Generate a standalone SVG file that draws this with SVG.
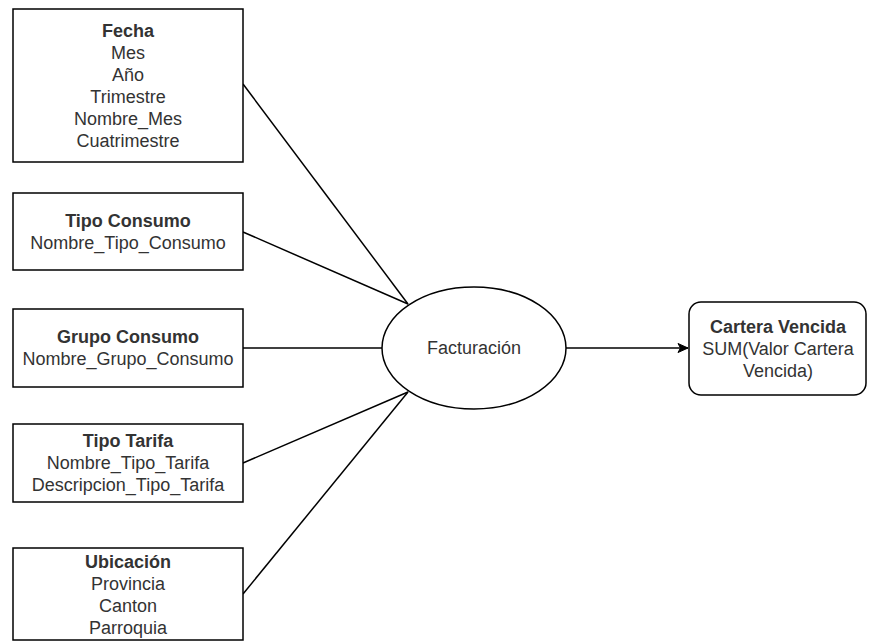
<svg xmlns="http://www.w3.org/2000/svg" width="869" height="642" viewBox="0 0 869 642">
  <defs>
    <style>
      .box { fill: #ffffff; stroke: #000000; stroke-width: 1.5; }
      .edge { fill: none; stroke: #000000; stroke-width: 1.5; }
      text { font-family: "Liberation Sans", Arial, Helvetica, sans-serif; font-size: 18px; fill: #333333; text-anchor: middle; }
      .title { font-weight: bold; }
    </style>
    <marker id="arrow" markerWidth="12" markerHeight="10" refX="11" refY="5" orient="auto" markerUnits="userSpaceOnUse">
      <path d="M1,0.5 L11,5 L1,9.5 L3.5,5 Z" fill="#000000" stroke="#000000" stroke-width="1"/>
    </marker>
  </defs>
  <rect width="869" height="642" fill="#ffffff"/>

  <!-- connectors -->
  <g id="connectors">
    <line class="edge" x1="243" y1="84" x2="408" y2="304"/>
    <line class="edge" x1="243" y1="232" x2="408" y2="304"/>
    <line class="edge" x1="243" y1="348" x2="382" y2="348"/>
    <line class="edge" x1="243" y1="463" x2="408" y2="392"/>
    <line class="edge" x1="243" y1="594" x2="408" y2="392"/>
    <line class="edge" x1="566" y1="348" x2="688" y2="348" marker-end="url(#arrow)"/>
  </g>

  <!-- dimension: Fecha -->
  <g id="fecha">
    <rect class="box" x="13" y="9" width="230" height="153"/>
    <text class="title" x="128" y="37">Fecha</text>
    <text x="128" y="59">Mes</text>
    <text x="128" y="81">Año</text>
    <text x="128" y="103">Trimestre</text>
    <text x="128" y="125">Nombre_Mes</text>
    <text x="128" y="147">Cuatrimestre</text>
  </g>

  <!-- dimension: Tipo Consumo -->
  <g id="tipo-consumo">
    <rect class="box" x="13" y="193" width="230" height="77"/>
    <text class="title" x="128" y="227">Tipo Consumo</text>
    <text x="128" y="249">Nombre_Tipo_Consumo</text>
  </g>

  <!-- dimension: Grupo Consumo -->
  <g id="grupo-consumo">
    <rect class="box" x="13" y="309" width="230" height="78"/>
    <text class="title" x="128" y="343">Grupo Consumo</text>
    <text x="128" y="365">Nombre_Grupo_Consumo</text>
  </g>

  <!-- dimension: Tipo Tarifa -->
  <g id="tipo-tarifa">
    <rect class="box" x="13" y="424" width="230" height="78"/>
    <text class="title" x="128" y="447">Tipo Tarifa</text>
    <text x="128" y="469">Nombre_Tipo_Tarifa</text>
    <text x="128" y="491">Descripcion_Tipo_Tarifa</text>
  </g>

  <!-- dimension: Ubicación -->
  <g id="ubicacion">
    <rect class="box" x="13" y="548" width="230" height="92"/>
    <text class="title" x="128" y="568">Ubicación</text>
    <text x="128" y="590">Provincia</text>
    <text x="128" y="612">Canton</text>
    <text x="128" y="634">Parroquia</text>
  </g>

  <!-- fact: Facturación -->
  <g id="facturacion">
    <ellipse class="box" cx="474" cy="348" rx="92" ry="61"/>
    <text x="474" y="354">Facturación</text>
  </g>

  <!-- measure: Cartera Vencida -->
  <g id="cartera-vencida">
    <rect class="box" x="689" y="302" width="177" height="93" rx="12" ry="12"/>
    <text class="title" x="778" y="333">Cartera Vencida</text>
    <text x="778" y="355">SUM(Valor Cartera</text>
    <text x="778" y="377">Vencida)</text>
  </g>
</svg>
